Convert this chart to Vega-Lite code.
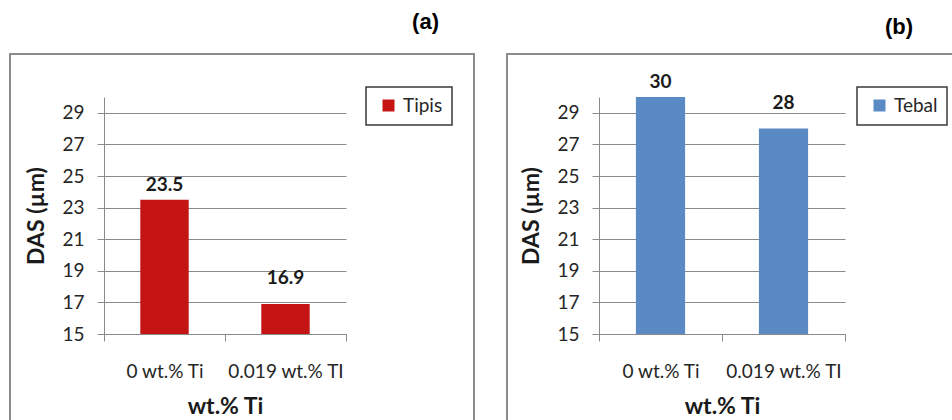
{
  "$schema": "https://vega.github.io/schema/vega-lite/v6.json",
  "background": "white",
  "padding": {"left": 9, "top": 10, "right": 0, "bottom": 0},
  "datasets": {
    "tipis": [
      {"kadar": "0 wt.% Ti", "das": 23.5, "seri": "Tipis"},
      {"kadar": "0.019 wt.% TI", "das": 16.9, "seri": "Tipis"}
    ],
    "tebal": [
      {"kadar": "0 wt.% Ti", "das": 30, "seri": "Tebal"},
      {"kadar": "0.019 wt.% TI", "das": 28, "seri": "Tebal"}
    ]
  },
  "bounds": "flush",
  "spacing": 33,
  "resolve": {"scale": {"color": "independent"}, "legend": {"color": "independent"}},
  "hconcat": [
    {
      "width": 464,
      "height": 372,
      "title": {"text": "(a)", "anchor": "end", "frame": "group", "dx": -35, "offset": 3, "baseline": "alphabetic"},
      "data": {"name": "tipis"},
      "encoding": {
        "x": {
          "field": "kadar", "type": "nominal", "sort": null,
          "scale": {"range": [94, 336], "paddingInner": 0, "paddingOuter": 0},
          "axis": {"title": "wt.% Ti", "offset": -92}
        },
        "y": {
          "field": "das", "type": "quantitative",
          "scale": {"domain": [15, 30], "range": [280, 43], "zero": false, "nice": false},
          "axis": {"title": "DAS (µm)", "offset": -94, "values": [15, 17, 19, 21, 23, 25, 27, 29]}
        }
      },
      "layer": [
        {
          "mark": {"type": "bar", "width": {"band": 0.4}},
          "encoding": {
            "y2": {"datum": 15},
            "color": {
              "field": "seri", "type": "nominal",
              "scale": {"range": ["#C41414"]},
              "legend": {"orient": "none", "legendX": 356, "legendY": 33, "title": null}
            }
          }
        },
        {
          "transform": [{"filter": "datum.kadar === '0 wt.% Ti'"}],
          "mark": {"type": "text", "baseline": "alphabetic", "dy": -9, "fontWeight": "bold", "fontSize": 19, "color": "#1a1a1a"},
          "encoding": {"text": {"field": "das", "type": "quantitative"}}
        },
        {
          "transform": [{"filter": "datum.kadar !== '0 wt.% Ti'"}],
          "mark": {"type": "text", "baseline": "alphabetic", "dy": -20, "fontWeight": "bold", "fontSize": 19, "color": "#1a1a1a"},
          "encoding": {"text": {"field": "das", "type": "quantitative"}}
        }
      ]
    },
    {
      "width": 464,
      "height": 372,
      "title": {"text": "(b)", "anchor": "end", "frame": "group", "dx": -58, "offset": -2, "baseline": "alphabetic"},
      "data": {"name": "tebal"},
      "encoding": {
        "x": {
          "field": "kadar", "type": "nominal", "sort": null,
          "scale": {"range": [92, 338], "paddingInner": 0, "paddingOuter": 0},
          "axis": {"title": "wt.% Ti", "offset": -92}
        },
        "y": {
          "field": "das", "type": "quantitative",
          "scale": {"domain": [15, 30], "range": [280, 43], "zero": false, "nice": false},
          "axis": {"title": "DAS (µm)", "offset": -92, "values": [15, 17, 19, 21, 23, 25, 27, 29]}
        }
      },
      "layer": [
        {
          "mark": {"type": "bar", "width": {"band": 0.4}},
          "encoding": {
            "y2": {"datum": 15},
            "color": {
              "field": "seri", "type": "nominal",
              "scale": {"range": ["#5A8AC4"]},
              "legend": {"orient": "none", "legendX": 350, "legendY": 33, "title": null}
            }
          }
        },
        {
          "transform": [{"filter": "datum.kadar === '0 wt.% Ti'"}],
          "mark": {"type": "text", "baseline": "alphabetic", "dy": -9, "fontWeight": "bold", "fontSize": 19, "color": "#1a1a1a"},
          "encoding": {"text": {"field": "das", "type": "quantitative"}}
        },
        {
          "transform": [{"filter": "datum.kadar !== '0 wt.% Ti'"}],
          "mark": {"type": "text", "baseline": "alphabetic", "dy": -20, "fontWeight": "bold", "fontSize": 19, "color": "#1a1a1a"},
          "encoding": {"text": {"field": "das", "type": "quantitative"}}
        }
      ]
    }
  ],
  "config": {
    "font": "Lato",
    "view": {"stroke": "#8c8c8c", "strokeWidth": 2},
    "title": {"font": "Liberation Sans", "fontSize": 22, "fontWeight": "bold", "color": "#000000"},
    "axis": {
      "domainColor": "#8a8a8a", "domainWidth": 1,
      "tickColor": "#8a8a8a", "tickWidth": 1, "tickSize": 7,
      "gridColor": "#8a8a8a", "gridWidth": 1,
      "labelFont": "Lato", "labelFontSize": 19, "labelColor": "#262626",
      "titleFont": "Lato", "titleFontSize": 23, "titleFontWeight": "bold", "titleColor": "#1a1a1a"
    },
    "axisX": {"grid": false, "labelAngle": 0, "tickBand": "extent", "labelPadding": 21, "titlePadding": 14},
    "axisY": {"grid": true, "labelPadding": 13, "titlePadding": 13},
    "legend": {
      "strokeColor": "#3a3a3a", "strokeWidth": 1.5, "padding": 9,
      "symbolType": "square", "symbolSize": 144, "symbolStrokeWidth": 0, "symbolOffset": 4,
      "labelFont": "Lato", "labelFontSize": 19, "labelColor": "#262626", "labelOffset": 5
    }
  }
}
